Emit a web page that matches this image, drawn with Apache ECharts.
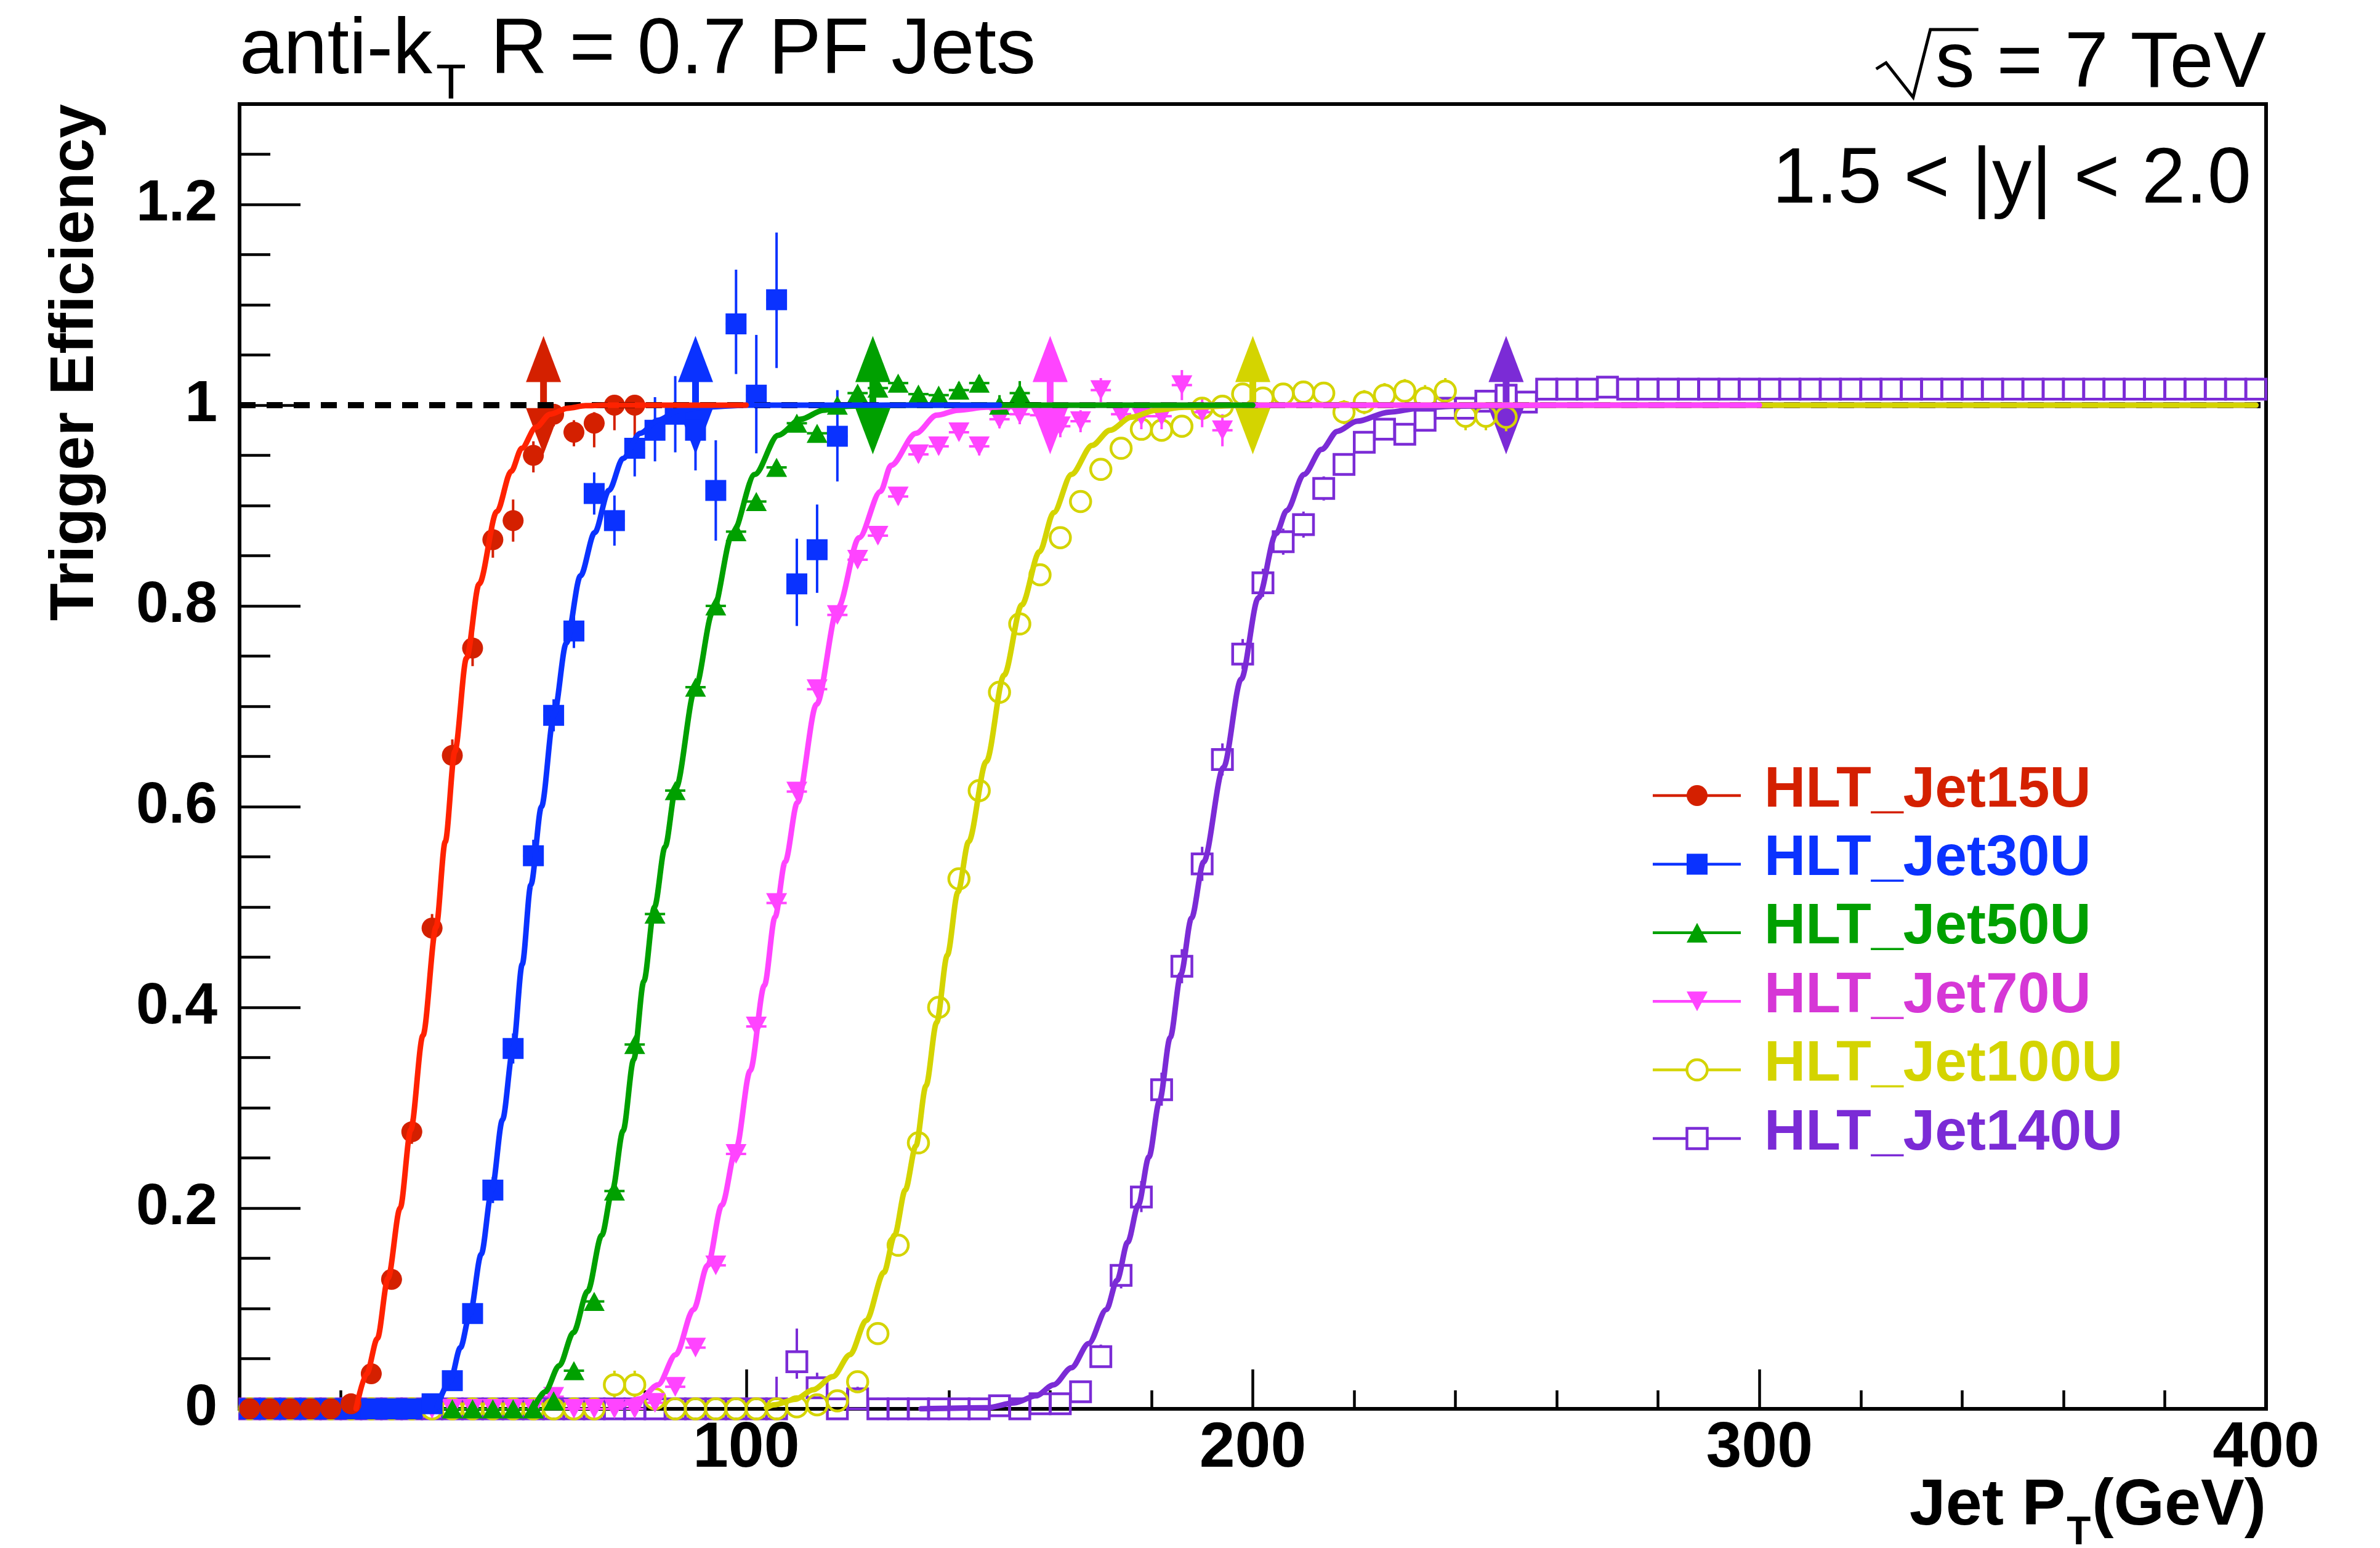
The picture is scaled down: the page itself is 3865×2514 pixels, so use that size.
<!DOCTYPE html>
<html lang="en">
<head>
<meta charset="utf-8">
<title>Trigger Efficiency vs Jet pT</title>
<script src="https://cdn.jsdelivr.net/npm/echarts@6/dist/echarts.min.js"></script>
<style>
  html, body { margin: 0; padding: 0; background: #ffffff; }
  #chart { width: 3865px; height: 2514px; }
</style>
</head>
<body>
<div id="chart"></div>
<script>
// ---------------------------------------------------------------------------
// Axis ticks
// ---------------------------------------------------------------------------
const xTickValues = [100, 200, 300, 400];
const yTickValues = [0, 0.2, 0.4, 0.6, 0.8, 1, 1.2];

const triggerNames = ['HLT_Jet15U', 'HLT_Jet30U', 'HLT_Jet50U', 'HLT_Jet70U', 'HLT_Jet100U', 'HLT_Jet140U'];

// half of the 4 GeV pT bin, used for the horizontal error bars
const ptHalfWidth = 2;

// ---------------------------------------------------------------------------
// Measured efficiency per pT bin: [pT (GeV), efficiency, error down, error up]
// ---------------------------------------------------------------------------
const jet15U = [
  [2,0,0,0],[6,0,0,0],[10,0,0,0],[14,0,0,0],[18,0,0,0],[22,0.005,0.003,0.004],
  [26,0.035,0.006,0.008],[30,0.129,0.010,0.011],[34,0.276,0.012,0.013],[38,0.479,0.013,0.014],
  [42,0.651,0.016,0.016],[46,0.758,0.018,0.018],[50,0.866,0.018,0.018],[54,0.885,0.021,0.021],
  [58,0.950,0.017,0.014],[62,0.991,0.012,0.008],[66,0.973,0.014,0.012],[70,0.982,0.024,0.011],
  [74,1.000,0.025,0],[78,1.000,0.049,0]
];

const jet30U = [
  [2,0,0,0],[6,0,0,0],[10,0,0,0],[14,0,0,0],[18,0,0,0],[22,0,0,0],[26,0,0,0],[30,0,0,0],
  [34,0,0,0],[38,0.005,0.003,0.004],[42,0.028,0.006,0.007],[46,0.095,0.010,0.010],
  [50,0.218,0.013,0.013],[54,0.359,0.015,0.015],[58,0.551,0.016,0.016],[62,0.691,0.016,0.016],
  [66,0.775,0.017,0.017],[70,0.912,0.021,0.021],[74,0.885,0.025,0.025],[78,0.957,0.028,0.011],
  [82,0.975,0.031,0.033],[86,0.991,0.038,0.038],[90,0.975,0.040,0.030],[94,0.915,0.050,0.050],
  [98,1.081,0.050,0.054],[102,1.010,0.058,0.060],[106,1.105,0.068,0.067],[110,0.822,0.042,0.045],
  [114,0.856,0.043,0.045],[118,0.969,0.045,0.046]
];

const jet50U = [
  [22,0,0,0],[26,0,0,0],[30,0,0,0],[34,0,0,0],[38,0.005,0,0],[42,0,0,0],[46,0,0,0],[50,0,0,0],
  [54,0,0,0],[58,0,0,0],[62,0.008,0.003,0.003],[66,0.038,0.004,0.004],[70,0.107,0.005,0.005],
  [74,0.217,0.006,0.006],[78,0.363,0.007,0.007],[82,0.493,0.007,0.007],[86,0.616,0.007,0.007],
  [90,0.719,0.007,0.007],[94,0.800,0.007,0.007],[98,0.874,0.007,0.007],[102,0.904,0.007,0.007],
  [106,0.938,0.006,0.006],[110,0.982,0.006,0.006],[114,0.972,0.006,0.006],[118,1.000,0.006,0.006],
  [122,1.012,0.006,0.006],[126,1.017,0.006,0.006],[130,1.022,0.006,0.006],[134,1.011,0.006,0.006],
  [138,1.010,0.006,0.006],[142,1.015,0.008,0.008],[146,1.022,0.008,0.008],[150,1.000,0.010,0.010],
  [154,1.012,0.012,0.012]
];

const jet70U = [
  [38,0,0,0],[42,0,0,0],[46,0,0,0],[50,0,0,0],[54,0,0,0],[58,0,0,0],[62,0.012,0.003,0.003],
  [66,0,0,0],[70,0,0,0],[74,0,0,0],[78,0,0,0],[82,0.006,0.002,0.002],[86,0.022,0.003,0.003],
  [90,0.061,0.004,0.004],[94,0.143,0.005,0.005],[98,0.254,0.006,0.006],[102,0.381,0.007,0.007],
  [106,0.504,0.007,0.007],[110,0.615,0.008,0.008],[114,0.717,0.008,0.008],[118,0.791,0.008,0.008],
  [122,0.846,0.008,0.008],[126,0.870,0.008,0.008],[130,0.909,0.008,0.008],[134,0.951,0.008,0.008],
  [138,0.959,0.008,0.008],[142,0.973,0.008,0.008],[146,0.959,0.009,0.009],[150,0.986,0.009,0.009],
  [154,0.991,0.010,0.010],[158,0.990,0.010,0.010],[162,0.979,0.011,0.011],[166,0.984,0.011,0.011],
  [170,1.015,0.012,0.012],[174,0.991,0.012,0.012],[178,0.989,0.013,0.013],[182,0.989,0.013,0.013],
  [186,1.020,0.015,0.015],[190,0.993,0.015,0.015],[194,0.975,0.016,0.016]
];

const jet100U = [
  [2,0,0,0],[6,0,0,0],[10,0,0,0],[14,0,0,0],[18,0,0,0],[22,0,0,0],[26,0,0,0],[30,0,0,0],
  [34,0,0,0],[38,0,0,0],[42,0,0,0],[46,0,0,0],[50,0,0,0],[54,0,0,0],[58,0,0,0],[62,0,0,0],
  [66,0,0,0],[70,0,0,0],[74,0.024,0.014,0.014],[78,0.024,0.014,0.014],[82,0.010,0.006,0.008],
  [86,0,0,0],[90,0,0,0],[94,0,0,0],[98,0,0,0],[102,0,0,0],[106,0,0,0],[110,0.002,0.001,0.002],
  [114,0.004,0.002,0.003],[118,0.008,0.003,0.004],[122,0.027,0.005,0.005],[126,0.075,0.007,0.007],
  [130,0.163,0.009,0.009],[134,0.265,0.010,0.010],[138,0.400,0.011,0.011],[142,0.528,0.011,0.011],
  [146,0.616,0.011,0.011],[150,0.714,0.011,0.011],[154,0.782,0.011,0.011],[158,0.831,0.010,0.010],
  [162,0.868,0.010,0.010],[166,0.904,0.010,0.010],[170,0.936,0.009,0.009],[174,0.957,0.009,0.009],
  [178,0.976,0.009,0.009],[182,0.975,0.009,0.009],[186,0.979,0.010,0.010],[190,0.997,0.010,0.010],
  [194,0.999,0.010,0.010],[198,1.011,0.010,0.010],[202,1.007,0.010,0.010],[206,1.011,0.010,0.010],
  [210,1.013,0.010,0.010],[214,1.012,0.011,0.011],[218,0.993,0.012,0.012],[222,1.003,0.012,0.012],
  [226,1.010,0.012,0.012],[230,1.014,0.012,0.012],[234,1.007,0.013,0.013],[238,1.014,0.013,0.013],
  [242,0.989,0.014,0.014],[246,0.989,0.014,0.014],[250,0.988,0.014,0.014]
];

const jet140U = [
  [2,0,0,0],[6,0,0,0],[10,0,0,0],[14,0,0,0],[18,0,0,0],[22,0,0,0],[26,0,0,0],[30,0,0,0],
  [34,0,0,0],[38,0,0,0],[42,0,0,0],[46,0,0,0],[50,0,0,0],[54,0,0,0],[58,0,0,0],[62,0,0,0],
  [66,0,0,0],[70,0,0,0],[74,0,0,0],[78,0,0,0],[82,0,0,0],[86,0,0,0],[90,0,0,0],[94,0,0,0],
  [98,0,0,0],[102,0,0,0],[106,0,0,0.032],[110,0.047,0.017,0.033],[114,0.021,0.010,0.015],
  [118,0,0,0],[122,0.010,0.006,0.012],[126,0,0,0],[130,0,0,0],[134,0,0,0],[138,0,0,0],
  [142,0,0,0],[146,0,0,0],[150,0.003,0.002,0.004],[154,0,0,0],[158,0.005,0.003,0.005],
  [162,0.005,0.003,0.005],[166,0.017,0.006,0.008],[170,0.052,0.010,0.012],[174,0.133,0.013,0.014],
  [178,0.211,0.015,0.016],[182,0.318,0.016,0.017],[186,0.441,0.017,0.017],[190,0.543,0.017,0.017],
  [194,0.647,0.016,0.016],[198,0.752,0.015,0.015],[202,0.823,0.014,0.014],[206,0.864,0.013,0.013],
  [210,0.881,0.013,0.013],[214,0.917,0.012,0.012],[218,0.941,0.011,0.011],[222,0.963,0.010,0.010],
  [226,0.976,0.009,0.009],[230,0.971,0.010,0.010],[234,0.985,0.008,0.008],[238,0.997,0.006,0.006],
  [242,0.997,0.006,0.006],[246,1.004,0.006,0.006],[250,1.010,0.006,0.006],[254,1.003,0.006,0.006],
  [258,1.016,0,0],[262,1.016,0,0],[266,1.016,0,0],[270,1.018,0,0],[274,1.016,0,0],[278,1.016,0,0],
  [282,1.016,0,0],[286,1.016,0,0],[290,1.016,0,0],[294,1.016,0,0],[298,1.016,0,0],[302,1.016,0,0],
  [306,1.016,0,0],[310,1.016,0,0],[314,1.016,0,0],[318,1.016,0,0],[322,1.016,0,0],[326,1.016,0,0],
  [330,1.016,0,0],[334,1.016,0,0],[338,1.016,0,0],[342,1.016,0,0],[346,1.016,0,0],[350,1.016,0,0],
  [354,1.016,0,0],[358,1.016,0,0],[362,1.016,0,0],[366,1.016,0,0],[370,1.016,0,0],[374,1.016,0,0],
  [378,1.016,0,0],[382,1.016,0,0],[386,1.016,0,0],[390,1.016,0,0],[394,1.016,0,0],[398,1.016,0,0]
];

// ---------------------------------------------------------------------------
// Fitted turn-on curves: [pT (GeV), efficiency]
// ---------------------------------------------------------------------------
const jet15UFit = [
  [23,0.0],[25.1,0.035],[27.2,0.07],[29.3,0.13],[31.7,0.2],[33.8,0.278],[36.2,0.372],[38.8,0.48],
  [40.6,0.565],[42.5,0.655],[44.8,0.748],[47.3,0.822],[50.8,0.894],[53.6,0.934],[55.7,0.957],
  [58.5,0.978],[61.3,0.991],[64.8,0.997],[68.3,0.9995],[72,1.0],[100,1.0]
];
const jet30UFit = [
  [39,0.002],[41.6,0.028],[43.6,0.061],[45.5,0.095],[47.7,0.154],[49.8,0.218],[51.9,0.288],
  [54,0.359],[55.8,0.443],[57.5,0.522],[59.6,0.6],[62.05,0.691],[64.5,0.763],[67.3,0.83],
  [70.1,0.873],[72.9,0.915],[75.7,0.947],[79.1,0.972],[82.6,0.985],[86.8,0.995],[91.7,0.998],
  [100,1.0],[150,1.0]
];
const jet50UFit = [
  [58.2,0.002],[60.3,0.017],[63.1,0.043],[65.9,0.076],[68.7,0.117],[71.5,0.173],[73.6,0.218],
  [75.7,0.277],[77.8,0.348],[79.8,0.426],[81.9,0.5],[84,0.56],[86.1,0.618],[89.96,0.718],
  [93.4,0.794],[97.3,0.872],[101.7,0.931],[106.3,0.97],[110.8,0.986],[115.2,0.995],[120,0.999],
  [130,1.0],[200,1.0]
];
const jet70UFit = [
  [75,0.002],[79.1,0.01],[82.6,0.024],[86.1,0.054],[89.6,0.099],[92.4,0.143],[95.2,0.203],
  [98,0.259],[100.8,0.337],[103.6,0.422],[105.7,0.49],[107.7,0.545],[110.1,0.604],[113.9,0.702],
  [118.1,0.798],[122.3,0.868],[126.5,0.914],[128.6,0.94],[133.5,0.972],[137.6,0.99],[141.8,0.995],
  [147.4,0.998],[160,1.0],[300,1.0]
];
const jet100UFit = [
  [104,0.001],[105.5,0.004],[109.7,0.0095],[113.2,0.019],[117.1,0.032],[120.5,0.054],[123.7,0.088],
  [127.2,0.136],[129.3,0.173],[131.4,0.218],[133.5,0.262],[135.5,0.322],[137.6,0.385],[139.7,0.452],
  [141.8,0.515],[143.9,0.565],[147.4,0.645],[150.9,0.731],[154.4,0.801],[157.9,0.854],[160.7,0.893],
  [164.2,0.931],[168.3,0.96],[171.8,0.975],[176,0.988],[180.9,0.995],[186.5,0.998],[200,1.0],[398,1.0]
];
const jet140UFit = [
  [134.5,0.0],[147.4,0.001],[153,0.006],[157.2,0.013],[160.7,0.024],[164.2,0.041],[167.6,0.065],
  [171.1,0.099],[173.2,0.128],[175.3,0.166],[177.4,0.203],[179.5,0.251],[181.6,0.307],[183.7,0.37],
  [185.8,0.433],[187.9,0.489],[190.3,0.545],[194.2,0.639],[197.7,0.727],[201.1,0.808],[204.6,0.872],
  [206.7,0.895],[210.1,0.931],[213.6,0.956],[216.7,0.974],[220.6,0.984],[226.8,0.993],[233,0.997],
  [239.2,0.999],[260,1.0],[398,1.0]
];

// pT at which each trigger reaches its plateau (double arrows around efficiency 1)
const thresholdPt = [60, 90, 125, 160, 200, 250];
const arrowRange = [0.951, 1.069];

// reference line at full efficiency
const unityLine = [[0, 1], [400, 1]];

// ---------------------------------------------------------------------------
// Styling
// ---------------------------------------------------------------------------
const FONT = '"Liberation Sans", Arial, Helvetica, sans-serif';

const triggers = [
  { name: triggerNames[0], points: jet15U, fit: jet15UFit, thresh: thresholdPt[0],
    look: { color: '#D42000', fitColor: '#FF2200', textColor: '#D42000', symbol: 'circle', size: 34, rotate: 0, hollow: false } },
  { name: triggerNames[1], points: jet30U, fit: jet30UFit, thresh: thresholdPt[1],
    look: { color: '#0A32FF', fitColor: '#0A32FF', textColor: '#0A32FF', symbol: 'rect', size: 34, rotate: 0, hollow: false } },
  { name: triggerNames[2], points: jet50U, fit: jet50UFit, thresh: thresholdPt[2],
    look: { color: '#00A000', fitColor: '#00A000', textColor: '#00A000', symbol: 'triangle', size: [34, 31], rotate: 0, hollow: false } },
  { name: triggerNames[3], points: jet70U, fit: jet70UFit, thresh: thresholdPt[3],
    look: { color: '#FF44FF', fitColor: '#FF44FF', textColor: '#D637D6', symbol: 'triangle', size: [34, 32], rotate: 180, hollow: false } },
  { name: triggerNames[4], points: jet100U, fit: jet100UFit, thresh: thresholdPt[4],
    look: { color: '#D4D400', fitColor: '#D4D400', textColor: '#D4D400', symbol: 'circle', size: 33, rotate: 0, hollow: true } },
  { name: triggerNames[5], points: jet140U, fit: jet140UFit, thresh: thresholdPt[5],
    look: { color: '#7B2BD6', fitColor: '#7B2BD6', textColor: '#7B2BD6', symbol: 'rect', size: 32.5, rotate: 0, hollow: true } }
];

// ---------------------------------------------------------------------------
// Series builders
// ---------------------------------------------------------------------------
function errorSeries(t) {
  const gap = t.look.hollow ? 18 : 0;
  const color = t.look.color;
  return {
    type: 'custom', name: t.name + ' errors', silent: true, clip: false, animation: false,
    dimensions: ['pt', 'eff', 'errDown', 'errUp'],
    encode: { x: 0, y: 1 },
    data: t.points,
    renderItem: function (params, api) {
      const pt = api.value(0), eff = api.value(1), dn = api.value(2), up = api.value(3);
      const c = api.coord([pt, eff]);
      const yUp = api.coord([pt, eff + up])[1];
      const yDn = api.coord([pt, eff - dn])[1];
      const xL = api.coord([pt - ptHalfWidth, eff])[0];
      const xR = api.coord([pt + ptHalfWidth, eff])[0];
      const st = { stroke: color, lineWidth: 4 };
      const kids = [];
      if (c[1] - yUp > gap) kids.push({ type: 'line', shape: { x1: c[0], y1: c[1] - gap, x2: c[0], y2: yUp }, style: st });
      if (yDn - c[1] > gap) kids.push({ type: 'line', shape: { x1: c[0], y1: c[1] + gap, x2: c[0], y2: yDn }, style: st });
      if (c[0] - xL > gap) kids.push({ type: 'line', shape: { x1: c[0] - gap, y1: c[1], x2: xL, y2: c[1] }, style: st });
      if (xR - c[0] > gap) kids.push({ type: 'line', shape: { x1: c[0] + gap, y1: c[1], x2: xR, y2: c[1] }, style: st });
      return { type: 'group', children: kids };
    }
  };
}

function markerSeries(t) {
  const L = t.look;
  return {
    type: 'scatter', name: t.name, silent: true, clip: false, animation: false,
    data: t.points.map(function (d) { return [d[0], d[1]]; }),
    symbol: L.symbol, symbolSize: L.size, symbolRotate: L.rotate,
    itemStyle: L.hollow
      ? { color: 'rgba(0,0,0,0)', borderColor: L.color, borderWidth: 4.5, opacity: 1 }
      : { color: L.color, borderWidth: 0, opacity: 1 },
    emphasis: { disabled: true }
  };
}

function fitSeries(t) {
  return {
    type: 'line', name: t.name + ' fit', silent: true, animation: false,
    data: t.fit, symbol: 'none', showSymbol: false,
    smooth: 0.3, smoothMonotone: 'x',
    lineStyle: { color: t.look.fitColor, width: 9, cap: 'round', join: 'round' },
    emphasis: { disabled: true }
  };
}

function arrowSeries(t) {
  const color = t.look.color;
  return {
    type: 'custom', name: t.name + ' plateau', silent: true, clip: false, animation: false,
    dimensions: ['pt', 'low', 'high'],
    encode: { x: 0, y: [1, 2] },
    data: [[t.thresh, arrowRange[0], arrowRange[1]]],
    renderItem: function (params, api) {
      const top = api.coord([api.value(0), api.value(2)]);
      const bot = api.coord([api.value(0), api.value(1)]);
      const cx = top[0], hw = 28.5, th = 75, sw = 5.5;
      const fill = { fill: color };
      return { type: 'group', children: [
        { type: 'rect', shape: { x: cx - sw, y: top[1] + th - 2, width: 2 * sw, height: bot[1] - top[1] - 2 * th + 4 }, style: fill },
        { type: 'polygon', shape: { points: [[cx, top[1]], [cx - hw, top[1] + th], [cx + hw, top[1] + th]] }, style: fill },
        { type: 'polygon', shape: { points: [[cx, bot[1]], [cx - hw, bot[1] - th], [cx + hw, bot[1] - th]] }, style: fill }
      ]};
    }
  };
}

const series = [{
  type: 'line', name: 'unity', silent: true, animation: false,
  data: unityLine, symbol: 'none',
  lineStyle: { color: '#000000', width: 10, type: [26, 18] },
  emphasis: { disabled: true }
}];
// draw the highest threshold first so the low-pT triggers sit on top
triggers.slice().reverse().forEach(function (t) {
  series.push(errorSeries(t), markerSeries(t), fitSeries(t), arrowSeries(t));
});

// ---------------------------------------------------------------------------
// Text and legend
// ---------------------------------------------------------------------------
const measureCtx = document.createElement('canvas').getContext('2d');
function textWidth(str, size, weight) {
  measureCtx.font = weight + ' ' + size + 'px ' + FONT;
  return measureCtx.measureText(str).width;
}
function textAtBaseline(str, x, baseline, size, weight, color, align) {
  return {
    type: 'text', x: x, y: baseline - 0.3465 * size, silent: true, z: 100,
    style: { text: str, fontFamily: FONT, fontSize: size, fontWeight: weight,
             fill: color, align: align || 'left', verticalAlign: 'middle' }
  };
}

const graphics = [];
const PLOT_LEFT = 389, PLOT_RIGHT = 3680;

// jet algorithm label
const titleSize = 128, titleSub = 80;
const wAnti = textWidth('anti-k', titleSize, 'normal');
const wSubT = textWidth('T', titleSub, 'normal');
graphics.push(textAtBaseline('anti-k', PLOT_LEFT, 128, titleSize, 'normal', '#000'));
graphics.push(textAtBaseline('T', PLOT_LEFT + wAnti + 6, 166, titleSub, 'normal', '#000'));
graphics.push(textAtBaseline(' R = 0.7 PF Jets', PLOT_LEFT + wAnti + 6 + wSubT + 4, 128, titleSize, 'normal', '#000'));

// centre-of-mass energy
const sqrtBase = 150;
const wRest = textWidth(' = 7 TeV', titleSize, 'normal');
const wS = textWidth('s', titleSize, 'normal');
const sLeft = PLOT_RIGHT - wRest - wS;
graphics.push(textAtBaseline(' = 7 TeV', PLOT_RIGHT, sqrtBase, titleSize, 'normal', '#000', 'right'));
graphics.push(textAtBaseline('s', sLeft, sqrtBase, titleSize, 'normal', '#000'));
graphics.push({
  type: 'polyline', silent: true, z: 100,
  shape: { points: [[sLeft - 96, 112], [sLeft - 80, 102], [sLeft - 36, sqrtBase + 8], [sLeft - 8, 48], [sLeft + wS + 6, 48]] },
  style: { stroke: '#000', lineWidth: 5, fill: null, lineJoin: 'miter' }
});

// rapidity bin
graphics.push(textAtBaseline('1.5 < |y| < 2.0', 3656, 338, titleSize, 'normal', '#000', 'right'));

// axis titles
graphics.push({
  type: 'text', x: 123, y: 169, rotation: Math.PI / 2, silent: true, z: 100,
  style: { text: 'Trigger Efficiency', fontFamily: FONT, fontSize: 100, fontWeight: 'bold',
           fill: '#000', align: 'right', verticalAlign: 'middle' }
});
const xtSize = 106, xtSub = 64;
const wGeV = textWidth('(GeV)', xtSize, 'bold');
const wXT = textWidth('T', xtSub, 'bold');
graphics.push(textAtBaseline('(GeV)', PLOT_RIGHT, 2483, xtSize, 'bold', '#000', 'right'));
graphics.push(textAtBaseline('T', PLOT_RIGHT - wGeV - 2, 2513, xtSub, 'bold', '#000', 'right'));
graphics.push(textAtBaseline('Jet P', PLOT_RIGHT - wGeV - 2 - wXT - 2, 2483, xtSize, 'bold', '#000', 'right'));

// legend
const legendLineX = [2684, 2827], legendMarkX = 2756, legendTextX = 2865;
const legendTop = 1292, legendStep = 111.4;
triggers.forEach(function (t, i) {
  const y = legendTop + i * legendStep;
  const L = t.look;
  graphics.push({ type: 'line', silent: true, z: 100,
    shape: { x1: legendLineX[0], y1: y, x2: legendLineX[1], y2: y },
    style: { stroke: L.color, lineWidth: 4.5 } });
  let mark;
  if (L.symbol === 'circle') {
    mark = L.hollow
      ? { type: 'circle', shape: { cx: legendMarkX, cy: y, r: 16.5 }, style: { fill: '#fff', stroke: L.color, lineWidth: 4.5 } }
      : { type: 'circle', shape: { cx: legendMarkX, cy: y, r: 17 }, style: { fill: L.color } };
  } else if (L.symbol === 'rect') {
    mark = L.hollow
      ? { type: 'rect', shape: { x: legendMarkX - 16.5, y: y - 16.5, width: 33, height: 33 }, style: { fill: '#fff', stroke: L.color, lineWidth: 4.5 } }
      : { type: 'rect', shape: { x: legendMarkX - 17, y: y - 17, width: 34, height: 34 }, style: { fill: L.color } };
  } else {
    const pts = L.rotate === 180
      ? [[legendMarkX, y + 16], [legendMarkX - 17, y - 16], [legendMarkX + 17, y - 16]]
      : [[legendMarkX, y - 16], [legendMarkX - 17, y + 16], [legendMarkX + 17, y + 16]];
    mark = { type: 'polygon', shape: { points: pts }, style: { fill: L.color } };
  }
  mark.silent = true; mark.z = 101;
  graphics.push(mark);
  graphics.push({
    type: 'text', x: legendTextX, y: y - 8, silent: true, z: 100,
    style: { text: t.name, fontFamily: FONT, fontSize: 93, fontWeight: 'bold',
             fill: L.textColor, align: 'left', verticalAlign: 'middle' }
  });
});

// ---------------------------------------------------------------------------
// Chart
// ---------------------------------------------------------------------------
const chart = echarts.init(document.getElementById('chart'), null, { renderer: 'canvas', width: 3865, height: 2514 });

const tickStyle = { color: '#000', width: 4.5 };
chart.setOption({
  animation: false,
  backgroundColor: '#ffffff',
  textStyle: { fontFamily: FONT },
  grid: {
    left: 389, right: 185, top: 169, bottom: 226,
    show: true, borderColor: '#000', borderWidth: 6, backgroundColor: 'transparent',
    containLabel: false, outerBoundsMode: 'none'
  },
  xAxis: {
    type: 'value', min: 0, max: 400, interval: 100, position: 'bottom',
    axisLine: { show: true, onZero: false, lineStyle: { color: '#000', width: 6 } },
    axisTick: { show: true, inside: true, length: 64, lineStyle: tickStyle },
    minorTick: { show: true, splitNumber: 5, length: 30, lineStyle: tickStyle },
    axisLabel: {
      show: true, margin: 13, color: '#000', fontFamily: FONT, fontWeight: 'bold', fontSize: 104,
      showMinLabel: false,
      formatter: function (v) { return xTickValues.indexOf(v) >= 0 ? String(v) : ''; }
    },
    splitLine: { show: false }, minorSplitLine: { show: false }
  },
  yAxis: [
    {
      type: 'value', min: 0, max: 1.3, interval: 0.05, position: 'left',
      axisLine: { show: true, onZero: false, lineStyle: { color: '#000', width: 6 } },
      axisTick: { show: true, inside: true, length: 50, lineStyle: tickStyle },
      axisLabel: { show: false },
      splitLine: { show: false }
    },
    {
      type: 'value', min: 0, max: 1.3, interval: 0.2, position: 'left',
      axisLine: { show: false },
      axisTick: { show: true, inside: true, length: 99, lineStyle: tickStyle },
      axisLabel: {
        show: true, margin: 36, color: '#000', fontFamily: FONT, fontWeight: 'bold', fontSize: 95,
        showMaxLabel: false,
        formatter: function (v) {
          for (let i = 0; i < yTickValues.length; i++) {
            if (Math.abs(yTickValues[i] - v) < 1e-9) return String(yTickValues[i]);
          }
          return '';
        }
      },
      splitLine: { show: false }
    }
  ],
  series: series,
  graphic: graphics
});
</script>
</body>
</html>
